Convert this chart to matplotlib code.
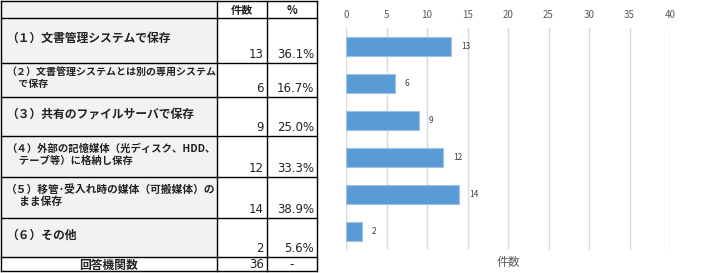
import matplotlib.pyplot as plt
from matplotlib.patches import Rectangle

plt.rcParams['font.family'] = ['Noto Sans CJK JP', 'DejaVu Sans']

categories = [
    "（１）文書管理システムで保存",
    "（２）文書管理システムとは別の専用システム\n　 で保存",
    "（３）共有のファイルサーバで保存",
    "（４）外部の記憶媒体（光ディスク、HDD、\n　 テープ等）に格納し保存",
    "（５）移管･受入れ時の媒体（可搬媒体）の\n　 まま保存",
    "（６）その他",
]
counts = [13, 6, 9, 12, 14, 2]
percents = ["36.1%", "16.7%", "25.0%", "33.3%", "38.9%", "5.6%"]
total_label = "回答機関数"
total_count = 36
header = ["", "件数", "%"]
axis_label = "件数"

W, H = 709, 273
fig = plt.figure(figsize=(W / 100, H / 100), dpi=100)

# ---- table (drawn in pixel coords) ----
tab = fig.add_axes([0, 0, 1, 1])
tab.set_xlim(0, W)
tab.set_ylim(H, 0)
tab.axis("off")

col_x = [1, 217, 267, 317]
row_y = [1, 18, 63, 97, 136, 177, 218, 257, 271]
gray = "#f2f2f2"
txt = "#222222"

tab.add_patch(Rectangle((col_x[0], row_y[0]), col_x[1] - col_x[0], row_y[1] - row_y[0],
                        facecolor=gray, edgecolor="none"))
tab.text((col_x[1] + col_x[2]) / 2, (row_y[0] + row_y[1]) / 2 + 1, header[1],
         ha="center", va="center", fontsize=8, fontweight="bold", color=txt)
tab.text((col_x[2] + col_x[3]) / 2, (row_y[0] + row_y[1]) / 2 + 1, header[2],
         ha="center", va="center", fontsize=8, fontweight="bold", color=txt)

renderer = fig.canvas.get_renderer()
for i, (lab, c, p) in enumerate(zip(categories, counts, percents)):
    y0, y1 = row_y[i + 1], row_y[i + 2]
    tab.add_patch(Rectangle((col_x[0], y0), col_x[1] - col_x[0], y1 - y0,
                            facecolor=gray, edgecolor="none"))
    t = tab.text(6, (y0 + y1) / 2 - 2, lab, ha="left", va="center", fontsize=8.5,
                 fontweight="bold", color=txt, linespacing=1.2)
    # shrink long labels so they stay inside the cell
    wpx = t.get_window_extent(renderer).width
    room = col_x[1] - 6 - 3
    if wpx > room:
        t.set_fontsize(8.5 * room / wpx)
    tab.text(col_x[2] - 3, y1 - 2, str(c), ha="right", va="bottom",
             fontsize=8.5, family="DejaVu Sans", color=txt)
    tab.text(col_x[3] - 3, y1 - 2, p, ha="right", va="bottom",
             fontsize=8.5, family="DejaVu Sans", color=txt)

ty = (row_y[7] + row_y[8]) / 2
tab.text((col_x[0] + col_x[1]) / 2, ty + 1, total_label, ha="center", va="center",
         fontsize=8.5, fontweight="bold", color=txt)
tab.text(col_x[2] - 3, ty + 1, str(total_count), ha="right", va="center",
         fontsize=8.5, family="DejaVu Sans", color=txt)
tab.text((col_x[2] + col_x[3]) / 2, ty + 1, "-", ha="center", va="center",
         fontsize=8.5, family="DejaVu Sans", color=txt)

for y in row_y:
    tab.plot([col_x[0], col_x[3]], [y, y], color="black", lw=1)
for x in col_x:
    tab.plot([x, x], [row_y[0], row_y[-1]], color="black", lw=1)

# ---- bar chart ----
left, right, top, bottom = 346, 670, 28, 250
ax = fig.add_axes([left / W, 1 - bottom / H, (right - left) / W, (bottom - top) / H])
ypos = list(range(len(counts)))
bars = ax.barh(ypos, counts, height=0.5, color="#5b9bd5", edgecolor="#9dc3e6", lw=0.8, zorder=3)
ax.set_ylim(len(counts) - 0.5, -0.5)
ax.set_xlim(0, 40)
ax.set_xticks(range(0, 41, 5))
ax.xaxis.tick_top()
ax.tick_params(axis="x", length=0, pad=6, labelsize=7, labelcolor="#595959")
ax.set_yticks([])
for s in ax.spines.values():
    s.set_visible(False)
ax.grid(axis="x", color="#d9d9d9", lw=1, zorder=0)
for b, v in zip(bars, counts):
    ax.text(v + 1.2, b.get_y() + b.get_height() / 2, str(v), va="center", ha="left",
            fontsize=6, color="#404040")
ax.set_xlabel(axis_label, fontsize=8.5, color="#595959", labelpad=4)

fig.savefig("out.png", dpi=100)
